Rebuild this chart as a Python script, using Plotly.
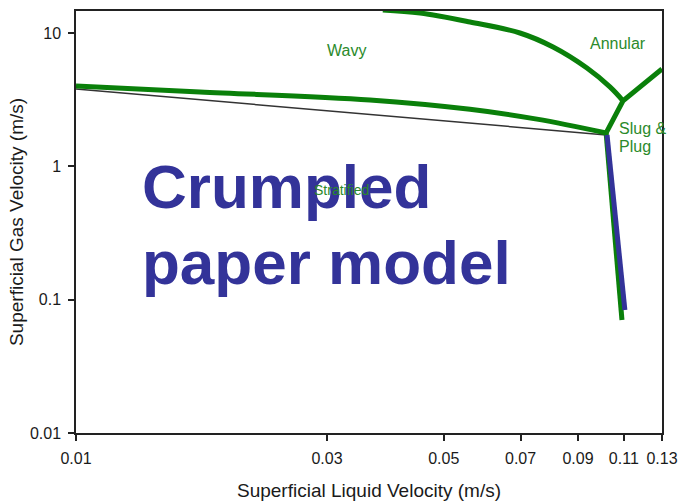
import plotly.graph_objects as go
import math

# ---- data ----
# stratified / wavy boundary (thick green)
lower_x = [0.01, 0.0172, 0.0362, 0.0561, 0.0752, 0.1018]
lower_y = [4.0, 3.61, 3.15, 2.68, 2.26, 1.78]
# thin black reference line
black_x = [0.01, 0.0347, 0.1018]
black_y = [3.80, 2.47, 1.72]
# wavy / annular boundary down to the upper junction
upper_x = [0.0383, 0.0451, 0.0561, 0.0698, 0.0807, 0.0936, 0.1035, 0.1096]
upper_y = [14.9, 14.13, 12.09, 10.0, 7.85, 5.46, 3.94, 3.1]
# junction segment and annular / slug branch
branch_x = [0.1018, 0.1096, 0.13]
branch_y = [1.78, 3.1, 5.37]
# stratified / slug boundary (green)
vert_green_x = [0.1018, 0.1091]
vert_green_y = [1.78, 0.0704]
# crumpled paper model (blue)
vert_blue_x = [0.1022, 0.1105]
vert_blue_y = [1.72, 0.0837]

x_ticks = [0.01, 0.03, 0.05, 0.07, 0.09, 0.11, 0.13]
x_tick_labels = ["0.01", "0.03", "0.05", "0.07", "0.09", "0.11", "0.13"]
y_ticks = [0.01, 0.1, 1, 10]
y_tick_labels = ["0.01", "0.1", "1", "10"]

GREEN = "#0a800a"
TEXT_GREEN = "#2b8a2b"
BLUE = "#333399"
FONT = "Arial, Liberation Sans, sans-serif"
INK = "#1a1a1a"

fig = go.Figure()
fig.add_trace(go.Scatter(x=black_x, y=black_y, mode="lines",
                         line=dict(color="#333333", width=1.5), hoverinfo="skip"))
fig.add_trace(go.Scatter(x=lower_x, y=lower_y, mode="lines",
                         line=dict(color=GREEN, width=5, shape="spline"), hoverinfo="skip"))
fig.add_trace(go.Scatter(x=upper_x, y=upper_y, mode="lines",
                         line=dict(color=GREEN, width=5, shape="spline", smoothing=1),
                         hoverinfo="skip"))
fig.add_trace(go.Scatter(x=branch_x, y=branch_y, mode="lines",
                         line=dict(color=GREEN, width=5), hoverinfo="skip"))
fig.add_trace(go.Scatter(x=vert_green_x, y=vert_green_y, mode="lines",
                         line=dict(color=GREEN, width=5), hoverinfo="skip"))
fig.add_trace(go.Scatter(x=vert_blue_x, y=vert_blue_y, mode="lines",
                         line=dict(color=BLUE, width=5), hoverinfo="skip"))

def lg(v):
    return math.log10(v)

annotations = [
    dict(x=lg(0.0327), y=lg(7.33), text="Wavy", xref="x", yref="y",
         showarrow=False, font=dict(size=16, color=TEXT_GREEN, family=FONT)),
    dict(x=lg(0.1073), y=lg(8.41), text="Annular", xref="x", yref="y",
         showarrow=False, font=dict(size=16, color=TEXT_GREEN, family=FONT)),
    dict(x=lg(0.1067), y=lg(1.92), text="Slug &amp;", xref="x", yref="y",
         xanchor="left", showarrow=False,
         font=dict(size=16, color=TEXT_GREEN, family=FONT)),
    dict(x=lg(0.1067), y=lg(1.40), text="Plug", xref="x", yref="y",
         xanchor="left", showarrow=False,
         font=dict(size=16, color=TEXT_GREEN, family=FONT)),
    dict(x=0.1095, y=0.585, text="<b>Crumpled</b>", xref="paper", yref="paper",
         xanchor="left", showarrow=False, font=dict(size=62, color=BLUE, family=FONT)),
    dict(x=0.1095, y=0.403, text="<b>paper model</b>", xref="paper", yref="paper",
         xanchor="left", showarrow=False, font=dict(size=62, color=BLUE, family=FONT)),
    dict(x=lg(0.0319), y=lg(0.665), text="Stratified", xref="x", yref="y",
         showarrow=False, font=dict(size=14, color=TEXT_GREEN, family=FONT)),
]

fig.update_layout(
    width=678, height=504,
    margin=dict(l=76, r=16, t=11, b=71),
    paper_bgcolor="white", plot_bgcolor="white",
    showlegend=False,
    font=dict(family=FONT, size=16, color=INK),
    annotations=annotations,
)
fig.update_xaxes(type="log", range=[lg(0.01), lg(0.13)], automargin=False,
                 tickvals=x_ticks, ticktext=x_tick_labels,
                 ticklabeloverflow="allow",
                 showgrid=False, zeroline=False,
                 showline=True, linecolor="#222222", linewidth=1.5, mirror=True,
                 ticks="outside", ticklen=6, tickwidth=1.5, tickcolor="#222222",
                 ticklabelstandoff=4,
                 tickfont=dict(size=16, color=INK),
                 title=dict(text="Superficial Liquid Velocity (m/s)", standoff=18,
                            font=dict(size=19, color=INK)))
fig.update_yaxes(type="log", range=[-2, 1.165], automargin=False,
                 tickvals=y_ticks, ticktext=y_tick_labels,
                 ticklabeloverflow="allow",
                 showgrid=False, zeroline=False,
                 showline=True, linecolor="#222222", linewidth=1.5, mirror=True,
                 ticks="outside", ticklen=6, tickwidth=1.5, tickcolor="#222222",
                 ticklabelstandoff=4,
                 tickfont=dict(size=16, color=INK),
                 title=dict(text="Superficial Gas Velocity (m/s)", standoff=1,
                            font=dict(size=19, color=INK)))

# remove the browser's default page margin so the 678x504 figure fills the window
fig.write_html("out.html",
               config={"displayModeBar": False},
               post_script="document.body.style.margin='0';document.body.style.overflow='hidden';")
